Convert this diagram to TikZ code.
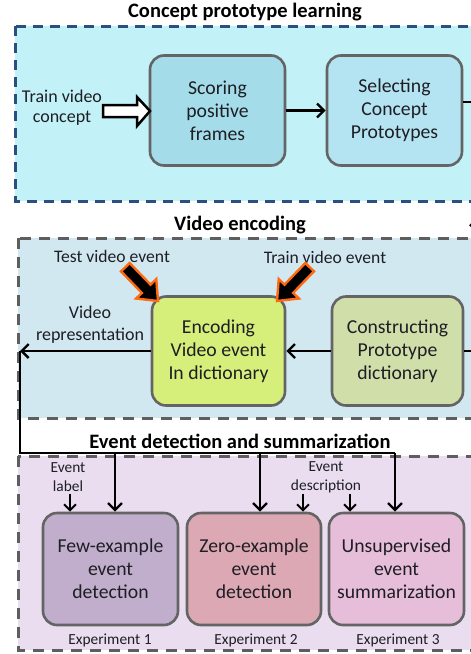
\documentclass[tikz,border=0pt]{standalone}
\usepackage{fontspec}
\setmainfont{Carlito}
\usetikzlibrary{arrows.meta}
\definecolor{navy}{HTML}{2B4F7F}
\definecolor{dgray}{HTML}{5E5E5E}
\definecolor{boxgray}{HTML}{646464}
\definecolor{pone}{HTML}{C2F2F8}
\definecolor{ptwo}{HTML}{D2E8F0}
\definecolor{pthree}{HTML}{E9DDEF}
\definecolor{cscore}{HTML}{A4DCEA}
\definecolor{csel}{HTML}{B4E4F2}
\definecolor{cenc}{HTML}{D6EE7A}
\definecolor{ccon}{HTML}{D0DEAA}
\definecolor{cfew}{HTML}{C0AECC}
\definecolor{czero}{HTML}{DCA8B4}
\definecolor{cuns}{HTML}{E6BEDA}
\definecolor{txt}{HTML}{1E1E24}
\definecolor{orng}{HTML}{FF6A10}
\begin{document}
\begin{tikzpicture}[x=1pt,y=-1pt,
  box/.style={draw=boxgray, line width=2.6pt, rounded corners=14pt, align=center,
    font=\fontsize{19.7}{23}\selectfont, text=txt, inner sep=1pt},
  conn/.style={line width=2.4pt, -{Straight Barb[length=7pt,width=14pt]}},
  sconn/.style={line width=2pt, -{Straight Barb[length=6pt,width=12pt]}},
  ttl/.style={font=\bfseries\fontsize{20.5}{22}\selectfont, text=black},
  lbl/.style={font=\fontsize{18}{21}\selectfont, text=txt, align=center},
  slbl/.style={font=\fontsize{15.4}{19}\selectfont, text=txt, align=center},
  panelone/.style={draw=navy, fill=pone, line width=3pt, dash pattern=on 10pt off 7pt},
  panel/.style={draw=dgray, line width=3pt, dash pattern=on 11pt off 8pt}
]
\clip (0,0) rectangle (471,654);
\fill[white] (0,0) rectangle (471,654);

% panels
\draw[panelone] (15,26) rectangle (500,201);
\draw[panel, fill=ptwo] (18,238) rectangle (500,418);
\draw[panel, fill=pthree] (18,456) rectangle (500,650);

% titles
\node[ttl] (t1) at (245,12) {Concept prototype learning};
\node[ttl] (t2) at (240,225) {Video encoding};
\node[ttl] (t3) at (240,441) {Event detection and summarization};

% boxes
\node[box, fill=cscore, minimum width=135, minimum height=110] (score) at (217.5,110.5) {Scoring\\positive\\frames};
\node[box, fill=csel, minimum width=135, minimum height=110] (sel) at (394.5,110.5) {Selecting\\Concept\\Prototypes};
\node[box, fill=cenc, minimum width=133, minimum height=109] (enc) at (218.5,351) {Encoding\\Video event\\In dictionary};
\node[box, fill=ccon, minimum width=131, minimum height=109] (con) at (397.5,351) {Constructing\\Prototype\\dictionary};
\node[box, fill=cfew, minimum width=135, minimum height=112] (few) at (110.5,569) {Few-example\\event\\detection};
\node[box, fill=czero, minimum width=134, minimum height=112] (zero) at (254,569) {Zero-example\\event\\detection};
\node[box, fill=cuns, minimum width=135, minimum height=112] (uns) at (396.5,569) {Unsupervised\\event\\summarization};

% labels
\node[lbl, font=\fontsize{18}{20}\selectfont] (tvc) at (62,108) {Train video\\concept};
\node[lbl, font=\fontsize{17.6}{20}\selectfont] (tve) at (112,256) {Test video event};
\node[lbl, font=\fontsize{17.6}{20}\selectfont] (trve) at (325,257) {Train video event};
\node[lbl, font=\fontsize{18}{22}\selectfont] (vrep) at (90,325) {Video\\representation};
\node[slbl] (evl) at (68,477.5) {Event\\label};
\node[slbl] (evd) at (326,477.5) {Event\\description};
\node[slbl] (ex1) at (110,640) {Experiment 1};
\node[slbl] (ex2) at (256,640) {Experiment 2};
\node[slbl] (ex3) at (398,640) {Experiment 3};

% hollow input arrow
\draw[line width=2.5pt, fill=white, line join=miter]
  (103,105) -- (137,105) -- (137,97) -- (150,111) -- (137,126) -- (137,117) -- (103,117) -- cycle;

% diagonal block arrows
\begin{scope}[shift={(158,301)}, rotate=-46]
  \draw[draw=orng, fill=black, line width=2.4pt, line join=miter]
    (0,0) -- (-17,14) -- (-17,6) -- (-47,6) -- (-47,-6) -- (-17,-6) -- (-17,-14) -- cycle;
\end{scope}
\begin{scope}[shift={(277,301)}, rotate=-134]
  \draw[draw=orng, fill=black, line width=2.4pt, line join=miter]
    (0,0) -- (-17,14) -- (-17,6) -- (-47,6) -- (-47,-6) -- (-17,-6) -- (-17,-14) -- cycle;
\end{scope}

% connectors
\coordinate (selout) at (477,102);
\coordinate (seldown) at (477,233);
\coordinate (conout) at (480,351);
\coordinate (vr) at (20,351);
\coordinate (bus) at (20,453);
\coordinate (busend) at (395,453);

\draw[conn] (score.east) -- (sel.west);
\draw[line width=2.4pt] (sel.east |- selout) -- (selout);
\draw[conn] (selout) -- (seldown);
\draw[line width=2.4pt] (conout) -- (con.east);
\draw[conn] (con.west) -- (enc.east);
\draw[conn] (enc.west) -- (vr);
\draw[line width=2.4pt, line join=miter] (vr) -- (bus) -- (busend);
\draw[conn] (115,453) -- (few.north -| 115,0);
\draw[conn] (260,453) -- (zero.north -| 260,0);
\draw[conn] (busend) -- (uns.north -| busend);
\draw[sconn] (70,494) -- (few.north -| 70,0);
\draw[sconn] (303,494) -- (zero.north -| 303,0);
\draw[sconn] (350,494) -- (uns.north -| 350,0);
\end{tikzpicture}
\end{document}
